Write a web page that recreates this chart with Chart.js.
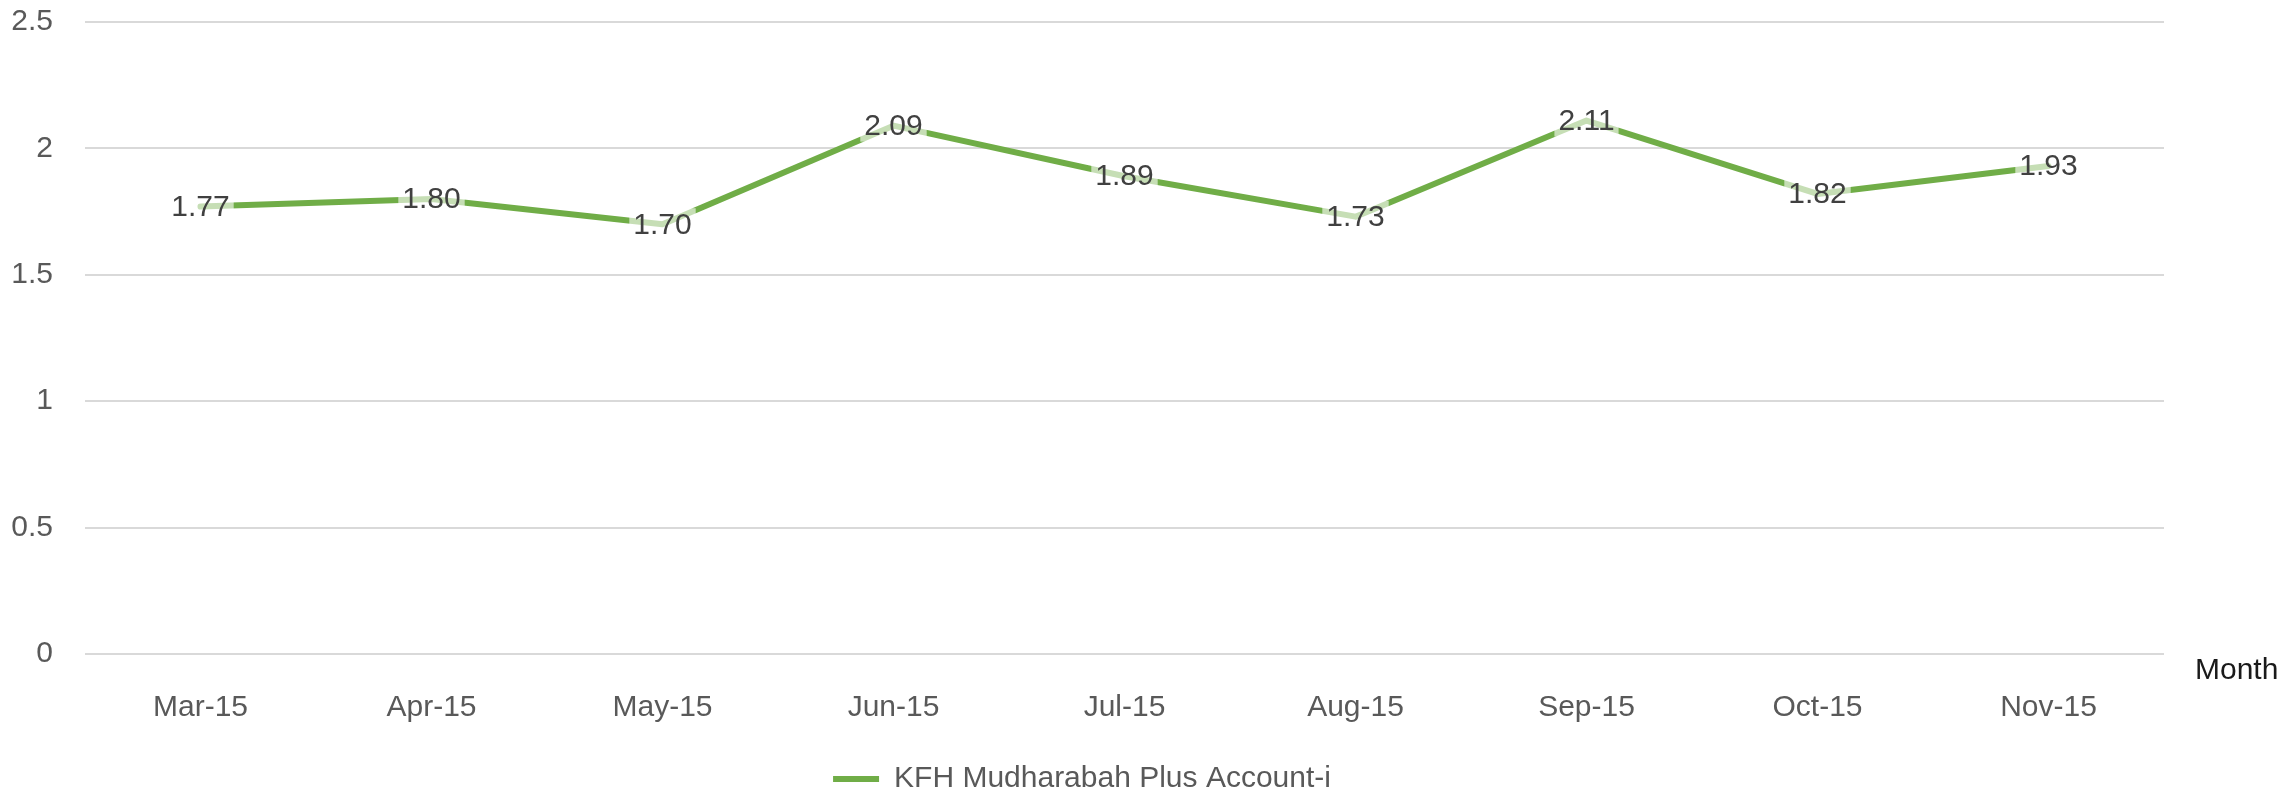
<!DOCTYPE html>
<html>
<head>
<meta charset="utf-8">
<script src="https://cdn.jsdelivr.net/npm/chart.js@4/dist/chart.umd.min.js"></script>
<style>
  html, body { margin: 0; padding: 0; background: #fff; }
  #wrap { width: 2287px; height: 791px; }
</style>
</head>
<body>
<div id="wrap"><canvas id="rateChart"></canvas></div>
<script>
// Chart data
const months = ['Mar-15', 'Apr-15', 'May-15', 'Jun-15', 'Jul-15', 'Aug-15', 'Sep-15', 'Oct-15', 'Nov-15'];
const profitRates = [1.77, 1.80, 1.70, 2.09, 1.89, 1.73, 2.11, 1.82, 1.93];
const yTicks = [0, 0.5, 1, 1.5, 2, 2.5];
const seriesName = 'KFH Mudharabah Plus Account-i';
const xTitle = 'Month';

const FONT = "'Liberation Sans', Arial, sans-serif";
const GREEN = '#70ad47';

// Value labels on each point, with a faded white box like Excel
const valueLabels = {
    id: 'valueLabels',
    afterDatasetsDraw(chart) {
        const ctx = chart.ctx;
        const meta = chart.getDatasetMeta(0);
        ctx.save();
        ctx.font = '30px ' + FONT;
        ctx.textAlign = 'center';
        ctx.textBaseline = 'middle';
        meta.data.forEach((pt, i) => {
            const txt = profitRates[i].toFixed(2);
            const w = ctx.measureText(txt).width;
            ctx.fillStyle = 'rgba(255,255,255,0.6)';
            ctx.fillRect(pt.x - w / 2 - 4, pt.y - 16, w + 8, 32);
            ctx.fillStyle = '#404040';
            ctx.fillText(txt, pt.x, pt.y + 1);
        });
        ctx.restore();
    }
};

// Axis title to the right of the x axis
const monthTitle = {
    id: 'monthTitle',
    afterDraw(chart) {
        const ctx = chart.ctx;
        const area = chart.chartArea;
        ctx.save();
        ctx.font = '30px ' + FONT;
        ctx.fillStyle = '#1a1a1a';
        ctx.textAlign = 'left';
        ctx.textBaseline = 'middle';
        ctx.fillText(xTitle, area.right + 31, area.bottom + 17);
        ctx.restore();
    }
};

new Chart(document.getElementById('rateChart'), {
    type: 'line',
    data: {
        labels: months,
        datasets: [{
            label: seriesName,
            data: profitRates,
            borderColor: GREEN,
            backgroundColor: GREEN,
            borderWidth: 6,
            pointRadius: 0,
            tension: 0,
            borderCapStyle: 'round',
            borderJoinStyle: 'round'
        }]
    },
    options: {
        responsive: true,
        maintainAspectRatio: false,
        animation: false,
        layout: {
            padding: { top: 22, right: 123, bottom: -13, left: 0 }
        },
        scales: {
            x: {
                offset: true,
                grid: { display: false, drawTicks: false },
                border: { display: false },
                ticks: {
                    color: '#595959',
                    font: { family: FONT, size: 30 },
                    padding: 36,
                    maxRotation: 0
                },
                afterFit(scale) { scale.height = 110; }
            },
            y: {
                min: 0,
                max: 2.5,
                afterBuildTicks(scale) {
                    scale.ticks = yTicks.map(v => ({ value: v }));
                },
                grid: {
                    color: '#d9d9d9',
                    lineWidth: 2,
                    drawTicks: true,
                    tickLength: 32,
                    tickColor: 'rgba(0,0,0,0)'
                },
                border: { display: false },
                ticks: {
                    color: '#595959',
                    font: { family: FONT, size: 30 },
                    padding: 0,
                    callback: v => String(v)
                },
                afterFit(scale) {
                    scale.width = 85;
                    scale.paddingTop = 0;
                    scale.paddingBottom = 0;
                }
            }
        },
        plugins: {
            legend: {
                position: 'bottom',
                labels: {
                    color: '#595959',
                    font: { family: FONT, size: 30 },
                    boxWidth: 46,
                    boxHeight: 6,
                    padding: 0,
                    generateLabels(chart) {
                        return [{
                            text: seriesName,
                            fillStyle: GREEN,
                            strokeStyle: GREEN,
                            lineWidth: 0,
                            datasetIndex: 0,
                            fontColor: '#595959'
                        }];
                    }
                }
            },
            tooltip: { enabled: false }
        }
    },
    plugins: [valueLabels, monthTitle]
});
</script>
</body>
</html>
